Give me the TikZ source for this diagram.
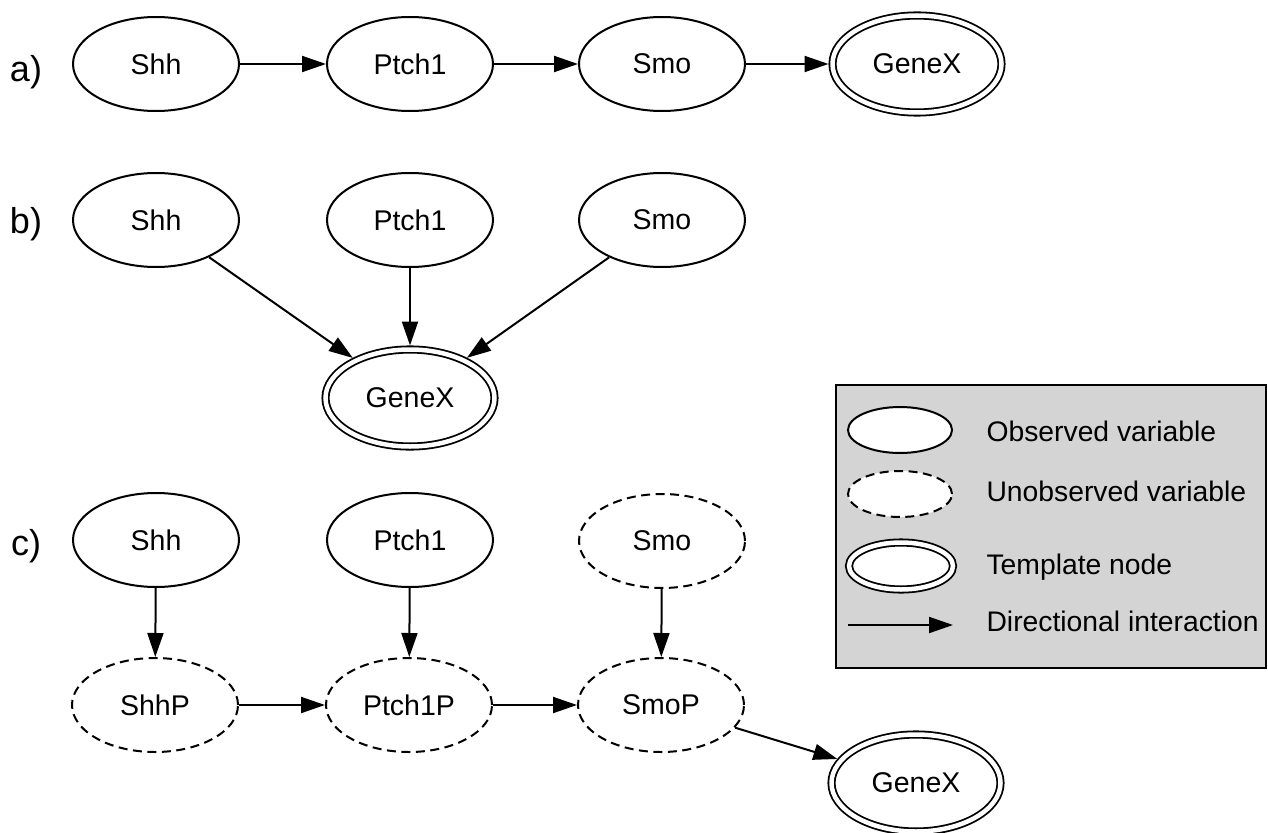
\documentclass[tikz,border=0pt]{standalone}
\usepackage{fontspec}
\setmainfont{Liberation Sans}
\usepackage{xcolor}
\usetikzlibrary{arrows.meta,positioning,shapes.geometric}

\definecolor{keygray}{HTML}{D4D4D4}

\begin{document}
\begin{tikzpicture}[
  x=1pt,y=-1pt,
  font=\fontsize{28.5}{32}\selectfont,
  obs/.style={draw,ellipse,line width=2pt,fill=white,inner sep=0pt,minimum width=166pt,minimum height=94pt},
  hid/.style={obs,dash pattern=on 9pt off 5.5pt},
  tmpl/.style={obs,double,line width=1.8pt,double distance=4.5pt,outer sep=4pt,minimum width=169pt,minimum height=97pt},
  lbl/.style={font=\fontsize{36}{40}\selectfont},
  key/.style={anchor=west,font=\fontsize{28.3}{32}\selectfont},
  arr/.style={-{Triangle[length=24pt,width=16pt]},line width=2pt}
]
\useasboundingbox (0,0) rectangle (1268,832);

% a) chain
\node[lbl] (la) at (26,72) {a)};
\node[obs] (shhA) at (156,64) {Shh};
\node[obs] (ptchA) at (410,64) {Ptch1};
\node[obs] (smoA) at (662,64) {Smo};
\node[tmpl] (genA) at (917,64) {GeneX};
\draw[arr] (shhA) -- (ptchA);
\draw[arr] (ptchA) -- (smoA);
\draw[arr] (smoA) -- (genA);

% b) all three onto the template
\node[lbl] (lb) at (26,224) {b)};
\node[obs] (shhB) at (156,220) {Shh};
\node[obs] (ptchB) at (410,220) {Ptch1};
\node[obs] (smoB) at (662,220) {Smo};
\node[tmpl] (genB) at (410,398) {GeneX};
\draw[arr] (shhB) -- (genB);
\draw[arr] (ptchB) -- (genB);
\draw[arr] (smoB) -- (genB);

% c) with hidden protein states
\node[lbl] (lc) at (26,546) {c)};
\node[obs] (shhC) at (156,540) {Shh};
\node[obs] (ptchC) at (410,540) {Ptch1};
\node[hid] (smoC) at (662,541) {Smo};
\node[hid] (shhP) at (155,705) {ShhP};
\node[hid] (ptchP) at (409,705) {Ptch1P};
\node[hid] (smoP) at (661,705) {SmoP};
\node[tmpl] (genC) at (916,783) {GeneX};
\draw[arr] (shhC) -- (shhP);
\draw[arr] (ptchC) -- (ptchP);
\draw[arr] (smoC) -- (smoP);
\draw[arr] (shhP) -- (ptchP);
\draw[arr] (ptchP) -- (smoP);
\draw[arr] (smoP) -- (genC);

% legend
\node[draw,line width=2pt,fill=keygray,minimum width=430pt,minimum height=283pt] (legend) at (1051,526.5) {};
\node[obs,minimum width=104pt,minimum height=46pt] (keyObs) at (900,430) {};
\node[hid,minimum width=104pt,minimum height=46pt] (keyHid) at (900,494) {};
\node[tmpl,minimum width=104pt,minimum height=47pt] (keyTmpl) at (901,566) {};
\coordinate (keyFrom) at (848,625);
\coordinate (keyTo) at (953,625);
\draw[arr] (keyFrom) -- (keyTo);
\node[key] (txtObs) at (983,431) {Observed variable};
\node[key] (txtHid) at (983,491) {Unobserved variable};
\node[key] (txtTmpl) at (983,567) {Template node};
\node[key] (txtArr) at (983,621) {Directional interaction};
\end{tikzpicture}
\end{document}
